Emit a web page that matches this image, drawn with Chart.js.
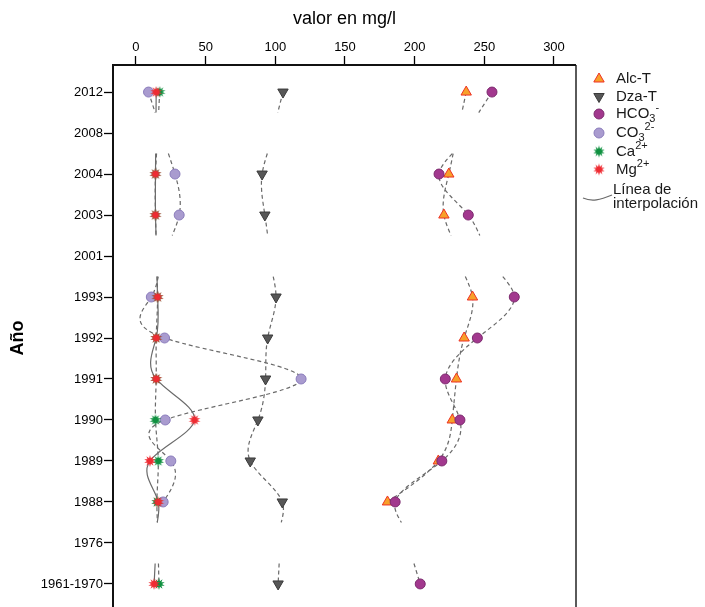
<!DOCTYPE html>
<html>
<head>
<meta charset="utf-8">
<script src="https://cdn.jsdelivr.net/npm/chart.js@4/dist/chart.umd.min.js"></script>
<style>
  html, body { margin: 0; padding: 0; background: #fff; overflow: hidden; }
  canvas { display: block; }
</style>
</head>
<body>
<canvas id="chart" width="705" height="640"></canvas>
<script>
// años (de arriba a abajo) y valores en mg/l; null = sin dato
const years  = ["2012", "2008", "2004", "2003", "2001", "1993", "1992", "1991", "1990", "1989", "1988", "1976", "1961-1970"];
const xTicks = [0, 50, 100, 150, 200, 250, 300];

const alcT = [237, null, 224.5, 221, null, 241.5, 235.5, 230, 227, 217, 180.5, null, null];
const dzaT = [105.5, null, 90.5, 92.5, null, 100.5, 94.5, 93, 87.5, 82, 105, null, 102];
const hco3 = [255.5, null, 217.5, 238.5, null, 271.5, 245, 222, 232.5, 219.5, 186, null, 204];
const co3  = [9, null, 28, 31, null, 11, 20.5, 118.5, 21, 25, 19.5, null, null];
const ca   = [17, null, 14, 14, null, 15.5, 14.5, 14.5, 14, 16, 15, null, 16.5];
const mg   = [14.5, null, 14, 14, null, 15.5, 14.5, 14.5, 42, 10, 16, null, 13];

Chart.defaults.font.family = "'Liberation Sans', Arial, sans-serif";
Chart.defaults.color = "#000";

// estrella tipo "sol" para Ca y Mg
function burst(color, r) {
  const c = document.createElement("canvas");
  const s = Math.ceil(r * 2 + 2);
  c.width = c.height = s;
  const g = c.getContext("2d");
  const n = 10;
  g.beginPath();
  for (let k = 0; k < n * 2; k++) {
    const rad = k % 2 ? r * 0.5 : r;
    const a = Math.PI * k / n - Math.PI / 2;
    g.lineTo(s / 2 + rad * Math.cos(a), s / 2 + rad * Math.sin(a));
  }
  g.closePath();
  g.fillStyle = color;
  g.fill();
  return c;
}

const series = [
  { name: [["Alc-T"]], vals: alcT, style: "triangle", rot: 0, r: 6, fill: "#f7a02a", line: "#ee3124", dash: [4, 3] },
  { name: [["Dza-T"]], vals: dzaT, style: "triangle", rot: 180, r: 6, fill: "#575757", line: "#3a3a3a", dash: [4, 3] },
  { name: [["HCO"], ["3", "sub"], ["-", "sup"]], vals: hco3, style: "circle", rot: 0, r: 5, fill: "#a2388e", line: "#7c2a6e", dash: [4, 3] },
  { name: [["CO"], ["3", "sub"], ["2-", "sup"]], vals: co3, style: "circle", rot: 0, r: 5, fill: "#a99bcf", line: "#8a7cbb", dash: [4, 3] },
  { name: [["Ca"], ["2+", "sup"]], vals: ca, style: burst("#0f9140", 6), rot: 0, r: 6, fill: "#0f9140", line: "#0f9140", dash: [4, 3] },
  { name: [["Mg"], ["2+", "sup"]], vals: mg, style: burst("#ef2b32", 6), rot: 0, r: 6, fill: "#ef2b32", line: "#ef2b32", dash: [] }
];

// línea de interpolación: en un año sin dato la unión sólo se dibuja medio paso desde cada lado
function curvePoints(vals) {
  const pts = [];
  let prev = -1;
  vals.forEach((v, i) => {
    if (v == null) return;
    if (prev >= 0 && i - prev > 1) {
      const a = vals[prev], n = i - prev;
      pts.push({ x: a + (v - a) * 0.5 / n, y: prev + 0.5 });
      pts.push({ x: null, y: prev + 1 });
      pts.push({ x: a + (v - a) * (n - 0.5) / n, y: i - 0.5 });
    }
    pts.push({ x: v, y: i });
    prev = i;
  });
  return pts;
}

function markerPoints(vals) {
  const pts = [];
  vals.forEach((v, i) => { if (v != null) pts.push({ x: v, y: i }); });
  return pts;
}

const datasets = [];
series.forEach((s) => {
  datasets.push({
    data: curvePoints(s.vals),
    showLine: true,
    pointRadius: 0,
    borderColor: "#6a6a6a",
    borderWidth: 1.2,
    borderDash: s.dash,
    tension: 0.4,
    order: 20
  });
});
series.forEach((s, k) => {
  datasets.push({
    data: markerPoints(s.vals),
    showLine: false,
    pointStyle: s.style,
    rotation: s.rot,
    pointRadius: s.r,
    backgroundColor: s.fill,
    borderColor: s.line,
    borderWidth: 1,
    order: series.length - k
  });
});

// pendientes de un spline cúbico natural x(t)
function naturalSlopes(ts, xs) {
  const n = xs.length;
  if (n < 2) return [0];
  const h = [], M = new Array(n).fill(0);
  for (let i = 0; i < n - 1; i++) h.push(ts[i + 1] - ts[i]);
  if (n > 2) {
    const a = [], b = [], c = [], d = [];
    for (let i = 1; i < n - 1; i++) {
      a.push(h[i - 1]); b.push(2 * (h[i - 1] + h[i])); c.push(h[i]);
      d.push(6 * ((xs[i + 1] - xs[i]) / h[i] - (xs[i] - xs[i - 1]) / h[i - 1]));
    }
    const m = d.length;
    for (let i = 1; i < m; i++) {
      const w = a[i] / b[i - 1];
      b[i] -= w * c[i - 1];
      d[i] -= w * d[i - 1];
    }
    const sol = new Array(m);
    sol[m - 1] = d[m - 1] / b[m - 1];
    for (let i = m - 2; i >= 0; i--) sol[i] = (d[i] - c[i] * sol[i + 1]) / b[i];
    for (let i = 0; i < m; i++) M[i + 1] = sol[i];
  }
  const s = [];
  for (let i = 0; i < n - 1; i++) s.push((xs[i + 1] - xs[i]) / h[i] - h[i] * (2 * M[i] + M[i + 1]) / 6);
  s.push((xs[n - 1] - xs[n - 2]) / h[n - 2] + h[n - 2] * (M[n - 2] + 2 * M[n - 1]) / 6);
  return s;
}

// la curva de cada tramo es un spline natural del valor en función del año
const naturalSpline = {
  id: "naturalSpline",
  beforeDatasetsDraw(chart) {
    chart.getSortedVisibleDatasetMetas().forEach((meta) => {
      const line = meta.dataset;
      if (!line || !chart.data.datasets[meta.index].showLine) return;
      line.updateControlPoints(chart.chartArea, "x");
      const pts = line.points;
      let i = 0;
      while (i < pts.length) {
        if (pts[i].skip) { i++; continue; }
        const run = [];
        while (i < pts.length && !pts[i].skip) run.push(pts[i++]);
        const sl = naturalSlopes(run.map(p => p.y), run.map(p => p.x));
        run.forEach((p, k) => {
          const hp = k > 0 ? (p.y - run[k - 1].y) / 3 : 0;
          const hn = k < run.length - 1 ? (run[k + 1].y - p.y) / 3 : 0;
          p.cp1x = p.x - sl[k] * hp; p.cp1y = p.y - hp;
          p.cp2x = p.x + sl[k] * hn; p.cp2y = p.y + hn;
        });
      }
      line._path = undefined;
    });
  }
};

// texto con subíndices / superíndices
function drawRich(ctx, parts, x, y) {
  let cx = x;
  parts.forEach(([t, mode]) => {
    let dy = 0;
    if (mode === "sub") { ctx.font = "11px 'Liberation Sans', Arial"; dy = 5; }
    else if (mode === "sup") { ctx.font = "11px 'Liberation Sans', Arial"; dy = -6; }
    else ctx.font = "15px 'Liberation Sans', Arial";
    ctx.fillText(t, cx, y + dy);
    cx += ctx.measureText(t).width;
  });
}

const legendRows = [79, 96.5, 114, 133, 151.5, 169.5];

const sideLegend = {
  id: "sideLegend",
  afterDraw(chart) {
    const ctx = chart.ctx;
    ctx.save();
    ctx.textBaseline = "middle";
    ctx.fillStyle = "#1a1a1a";
    series.forEach((s, k) => {
      const y = legendRows[k];
      ctx.save();
      ctx.fillStyle = s.fill;
      ctx.strokeStyle = s.line;
      ctx.lineWidth = 1;
      Chart.helpers.drawPoint(ctx, { pointStyle: s.style, rotation: s.rot, radius: s.r, borderWidth: 1 }, 599, y);
      ctx.restore();
      drawRich(ctx, s.name, 616, y);
    });
    // línea de interpolación
    ctx.strokeStyle = "#6a6a6a";
    ctx.lineWidth = 1.2;
    ctx.beginPath();
    ctx.moveTo(583, 198);
    ctx.bezierCurveTo(592, 202, 600, 200, 612, 195);
    ctx.stroke();
    ctx.font = "15px 'Liberation Sans', Arial";
    ctx.fillText("Línea de", 613, 190);
    ctx.fillText("interpolación", 613, 204);
    ctx.restore();
  }
};

// marco del área de datos
const plotFrame = {
  id: "plotFrame",
  afterDatasetsDraw(chart) {
    const { ctx, chartArea: a } = chart;
    ctx.save();
    ctx.lineWidth = 2;
    ctx.strokeStyle = "#5a5a5a";
    ctx.beginPath();
    ctx.moveTo(a.right, a.top);
    ctx.lineTo(a.right, a.bottom);
    ctx.stroke();
    ctx.strokeStyle = "#111";
    ctx.beginPath();
    ctx.moveTo(a.left, a.bottom);
    ctx.lineTo(a.left, a.top);
    ctx.lineTo(a.right, a.top);
    ctx.stroke();
    ctx.restore();
  }
};

new Chart(document.getElementById("chart"), {
  type: "scatter",
  data: { datasets: datasets },
  plugins: [naturalSpline, sideLegend, plotFrame],
  options: {
    responsive: false,
    animation: false,
    layout: { padding: { left: 0, right: 129, top: 0, bottom: 29 } },
    plugins: {
      legend: { display: false },
      tooltip: { enabled: false }
    },
    scales: {
      x: {
        type: "linear",
        position: "top",
        min: -16.5,
        max: 315.8,
        afterBuildTicks: (scale) => { scale.ticks = xTicks.map(v => ({ value: v })); },
        afterFit: (scale) => { scale.height = 65; },
        grid: { drawOnChartArea: false, tickLength: 9, tickColor: "#000", tickWidth: 1.3 },
        border: { display: false },
        ticks: { font: { size: 13 }, color: "#000", padding: 1, maxRotation: 0 },
        title: { display: true, text: "valor en mg/l", font: { size: 18 }, color: "#000", padding: { top: 8, bottom: 0 } }
      },
      y: {
        type: "linear",
        reverse: true,
        min: -0.66,
        max: 12.66,
        afterBuildTicks: (scale) => { scale.ticks = years.map((_, i) => ({ value: i })); },
        afterFit: (scale) => { scale.width = 113; },
        grid: { drawOnChartArea: false, tickLength: 9, tickColor: "#000", tickWidth: 1.3 },
        border: { display: false },
        ticks: { font: { size: 13 }, color: "#000", padding: 1, autoSkip: false, callback: (v) => years[v] },
        title: { display: true, text: "Año", font: { size: 18, weight: "bold" }, color: "#000", padding: { top: 7, bottom: 0 } }
      }
    }
  }
});
</script>
</body>
</html>
